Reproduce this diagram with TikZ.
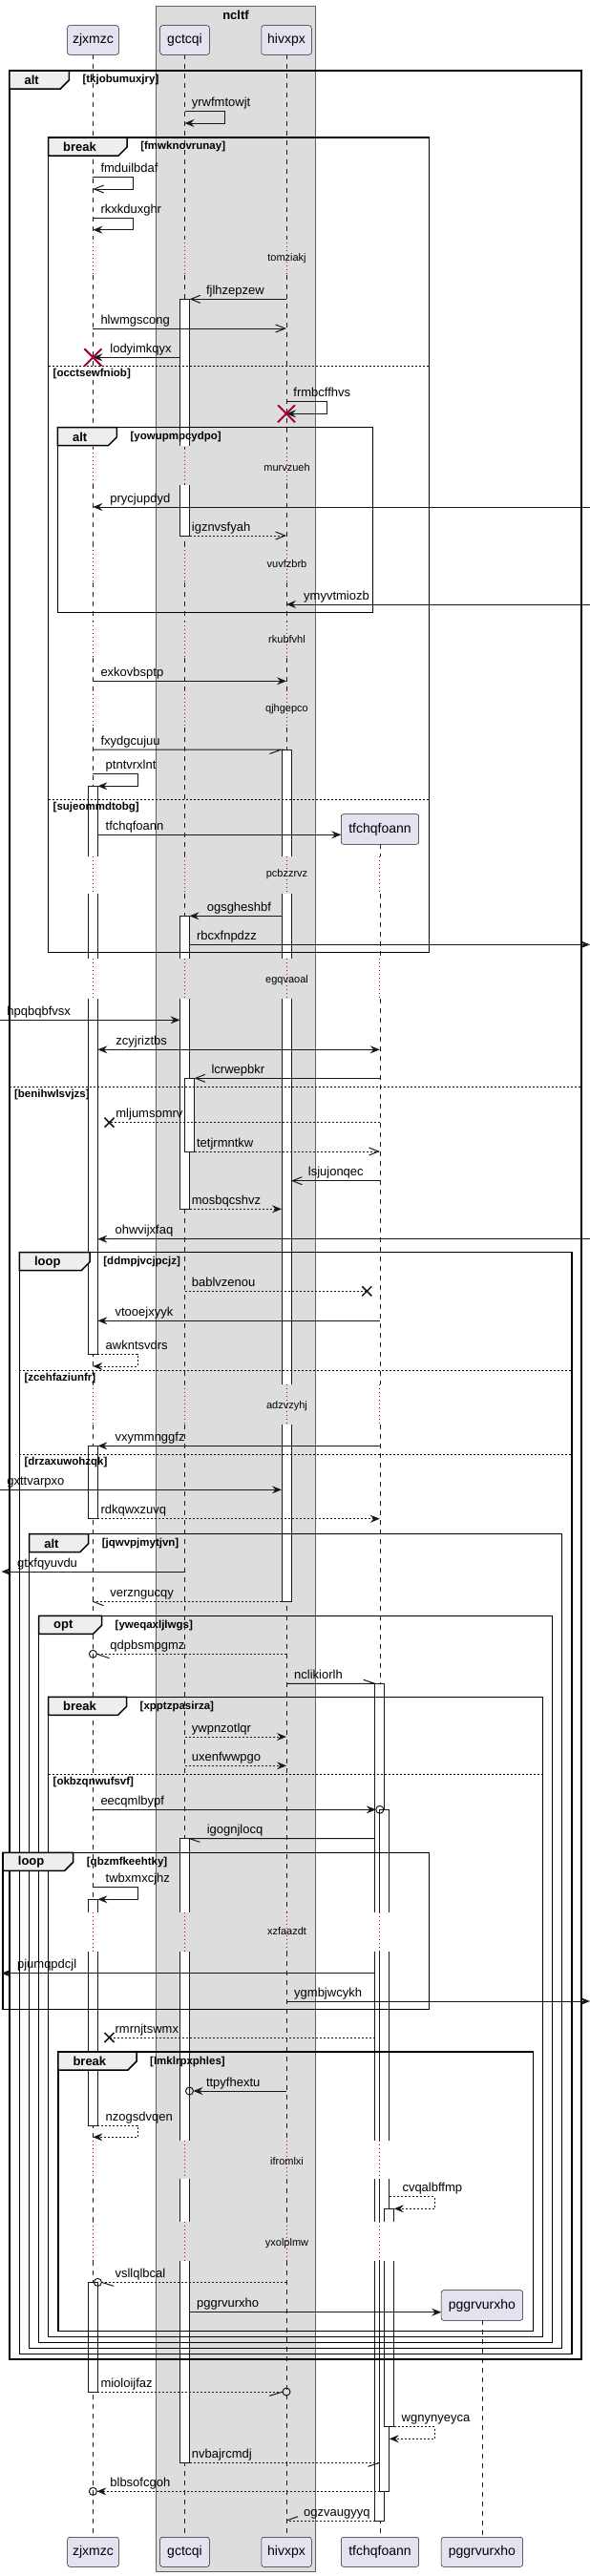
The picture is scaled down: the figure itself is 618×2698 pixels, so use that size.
\documentclass[tikz,border=0pt]{standalone}
\usepackage{fontspec}
\setmainfont{Liberation Sans}
\usetikzlibrary{arrows.meta}
\definecolor{lncol}{HTML}{181818}
\definecolor{partfill}{HTML}{E2E2F0}
\definecolor{grpfill}{HTML}{DDDDDD}
\definecolor{pentfill}{HTML}{EEEEEE}
\definecolor{dlycol}{HTML}{A80036}
\newcommand\fmsg{\fontsize{13}{15}\selectfont}
\newcommand\fpart{\fontsize{14}{16}\selectfont}
\newcommand\fdly{\fontsize{11}{13}\selectfont}
\newcommand\fcond{\fontsize{11.5}{13}\selectfont\bfseries}
\newcommand\fkw{\fontsize{13}{15}\selectfont\bfseries}
\newcommand\sqActF[3]{\filldraw[actst] (#1-5,#2) rectangle (#1+5,#3);}
\newcommand\sqActT[3]{\fill[white] (#1-5,#2) rectangle (#1+5,#3);\draw[actln] (#1-5,#3) -- (#1-5,#2) -- (#1+5,#2) -- (#1+5,#3);}
\newcommand\sqActB[3]{\fill[white] (#1-5,#2) rectangle (#1+5,#3);\draw[actln] (#1-5,#2) -- (#1-5,#3) -- (#1+5,#3) -- (#1+5,#2);}
\newcommand\sqActM[3]{\fill[white] (#1-5,#2) rectangle (#1+5,#3);\draw[actln] (#1-5,#2) -- (#1-5,#3) (#1+5,#2) -- (#1+5,#3);}
\newcommand\sqKill[2]{\draw[killst] (#1-9,#2-9) -- (#1+9,#2+9) (#1-9,#2+9) -- (#1+9,#2-9);}
\newcommand\sqLost[2]{\draw[lostst] (#1-5,#2-5) -- (#1+5,#2+5) (#1-5,#2+5) -- (#1+5,#2-5);}
\newcommand\sqLbl[3]{\node[lbl] (m-#3) at (#1,#2-5) {#3};}
\newcommand\sqDly[2]{\node[dlytxt] (d-#2) at (300.5,#1) {#2};}
\newcommand\sqFrame[8]{%
 \draw[frm] (#1,#2) rectangle (#3,#4);
 \filldraw[frm,fill=pentfill] (#1,#2) -- (#1+#5,#2) -- (#1+#5,#2+10) -- (#1+#5-9,#2+19) -- (#1,#2+19) -- cycle;
 \node[kwtxt] (k-#8) at (#1+15.5,#2+10) {#6};
 \node[condtxt] (c-#8) at (#1+#5+14,#2+10) {#7};}
\newcommand\sqElse[5]{\draw[elseln] (#1,#3) -- (#2,#3); \node[condtxt] (e-#5) at (#1+5,#3+8.3) {#4};}
\def\sqSegA{57.3/250,288.3/470,506.7/572,610/651,689/723,762/897,936/1004.3,1046/1450,1491.7/2002.7,2044/2241.7,2282.3/2326.7,2368.3/2657.3}
\def\sqDlyA{250/288.3,470/506.7,572/610,651/689,723/762,897/936,1004.3/1046,1450/1491.7,2002.7/2044,2241.7/2282.3,2326.7/2368.3}
\def\sqSegT{884.3/897,936/1004.3,1046/1450,1491.7/2002.7,2044/2241.7,2282.3/2326.7,2368.3/2657.3}
\def\sqDlyT{897/936,1004.3/1046,1450/1491.7,2002.7/2044,2241.7/2282.3,2326.7/2368.3}
\begin{document}
\begin{tikzpicture}[x=1pt,y=-1pt,
  msgln/.style={draw=lncol,line width=1pt},
  dshln/.style={dash pattern=on 2pt off 2pt},
  fhead/.style={-{Stealth[length=10pt,width=8pt,inset=3.5pt]}},
  ohead/.style={-{Straight Barb[length=10pt,width=8pt]}},
  bhead/.style={{Stealth[length=10pt,width=8pt,inset=3.5pt]}-{Stealth[length=10pt,width=8pt,inset=3.5pt]}},
  lbl/.style={font=\fmsg,inner sep=0pt,anchor=base west},
  dlytxt/.style={font=\fdly,inner sep=0pt},
  partbox/.style={draw=lncol,fill=partfill,line width=0.5pt,rounded corners=2.5pt,font=\fpart,inner sep=0pt},
  frm/.style={draw=black,line width=1.5pt},
  kwtxt/.style={font=\fkw,inner sep=0pt,anchor=west},
  condtxt/.style={font=\fcond,inner sep=0pt,anchor=west},
  elseln/.style={draw=black,line width=0.8pt,dash pattern=on 2pt off 2pt},
  lifeln/.style={draw=lncol,line width=0.5pt,dash pattern=on 5pt off 5pt},
  dlyln/.style={draw=dlycol,line width=0.8pt,dash pattern=on 1pt off 3pt},
  actst/.style={fill=white,draw=lncol,line width=1pt},
  actln/.style={draw=lncol,line width=1pt},
  killst/.style={draw=dlycol,line width=2pt},
  lostst/.style={draw=lncol,line width=1.5pt}]
\useasboundingbox (0,0) rectangle (618,2698);
\fill[white] (0,0) rectangle (618,2698);
% box group
\filldraw[fill=grpfill,draw=gray!75!black,line width=0.7pt] (163.7,6) rectangle (330.2,2693.3);
\node[font=\fkw,inner sep=0pt] (grp) at (247,16) {ncltf};
% lifelines
\foreach \lx in {97.4,193.5,300}{%
  \foreach \ya/\yb in \sqSegA {\draw[lifeln] (\lx,\ya) -- (\lx,\yb);}
  \foreach \ya/\yb in \sqDlyA {\draw[dlyln] (\lx,\ya) -- (\lx,\yb);}}
\foreach \ya/\yb in \sqSegT {\draw[lifeln] (397.8,\ya) -- (397.8,\yb);}
\foreach \ya/\yb in \sqDlyT {\draw[dlyln] (397.8,\ya) -- (397.8,\yb);}
\draw[lifeln] (505,2430.3) -- (505,2657.3);
% participants
\node[partbox,minimum width=53.7pt,minimum height=30.6pt] (zjxT) at (97.5,42) {zjxmzc};
\node[partbox,minimum width=51.7pt,minimum height=30.6pt] (gctT) at (193.5,42) {gctcqi};
\node[partbox,minimum width=52.5pt,minimum height=30.6pt] (hivT) at (300,42) {hivxpx};
\node[partbox,minimum width=53.7pt,minimum height=31pt] (zjxB) at (97.5,2672.8) {zjxmzc};
\node[partbox,minimum width=51.7pt,minimum height=31pt] (gctB) at (193.5,2672.8) {gctcqi};
\node[partbox,minimum width=52.5pt,minimum height=31pt] (hivB) at (300,2672.8) {hivxpx};
\node[partbox,minimum width=81.4pt,minimum height=31pt] (tfcB) at (398,2672.8) {tfchqfoann};
\node[partbox,minimum width=85.4pt,minimum height=31pt] (pggB) at (504.9,2672.8) {pggrvurxho};
\node[partbox,minimum width=81.4pt,minimum height=31.6pt] (tfcC) at (398,868.5) {tfchqfoann};
\node[partbox,minimum width=85.4pt,minimum height=31.6pt] (pggC) at (504.9,2414.5) {pggrvurxho};
% activations
\sqActT{193.5}{313.3}{467.3}\sqActB{193.5}{508.3}{561}
\sqActT{193.5}{959.3}{1004.3}\sqActB{193.5}{1046}{1266.3}
\sqActF{198.5}{1129.3}{1206}
\sqActT{193.5}{1925.7}{2002.7}\sqActM{193.5}{2044}{2241.7}\sqActM{193.5}{2282.3}{2326.7}\sqActB{193.5}{2368.3}{2579.3}
\sqActT{300}{785}{897}\sqActM{300}{936}{1004.3}\sqActM{300}{1046}{1450}\sqActB{300}{1491.7}{1677.3}
\sqActT{97.4}{823.3}{897}\sqActM{97.4}{936}{1004.3}\sqActB{97.4}{1046}{1418.3}
\sqActF{97.4}{1514.3}{1590.7}
\sqActT{97.4}{1989.3}{2002.7}\sqActB{97.4}{2044}{2226}
\sqActF{97.4}{2390.3}{2505}
\sqActT{397.8}{1763.3}{2002.7}\sqActM{397.8}{2044}{2241.7}\sqActM{397.8}{2282.3}{2326.7}\sqActB{397.8}{2368.3}{2640}
\sqActT{402.8}{1895.3}{2002.7}\sqActM{402.8}{2044}{2241.7}\sqActM{402.8}{2282.3}{2326.7}\sqActB{402.8}{2368.3}{2609.3}
\sqActT{407.8}{2313.3}{2326.7}\sqActB{407.8}{2368.3}{2541.7}
% frames
\sqFrame{9.9}{74}{608.8}{2471}{62.4}{alt}{[tkjobumuxjry]}{f1}
\sqFrame{50.5}{144}{449.5}{997.3}{82.6}{break}{[fmwknovrunay]}{f2}
\sqFrame{60.4}{447.7}{390.6}{641.7}{62}{alt}{[yowupmpcydpo]}{f3}
\sqFrame{20.3}{1311.7}{598.9}{2465.3}{73.9}{loop}{[ddmpjvcjpcjz]}{f4}
\sqFrame{30.6}{1606.7}{588.6}{2459.3}{62}{alt}{[jqwvpjmytjvn]}{f5}
\sqFrame{40.5}{1692.3}{578.6}{2453.7}{66}{opt}{[yweqaxljlwgs]}{f6}
\sqFrame{50.5}{1777.3}{568.3}{2447.7}{82}{break}{[xpptzpasirza]}{f7}
\sqFrame{3.2}{1940.3}{449.5}{2104.7}{73.5}{loop}{[qbzmfkeehtky]}{f8}
\sqFrame{60.8}{2149}{558.3}{2441.7}{82.2}{break}{[lmklrpxphles]}{f9}
\sqElse{50.5}{449.5}{383.3}{[occtsewfniob]}{1}
\sqElse{50.5}{449.5}{837.3}{[sujeommdtobg]}{2}
\sqElse{9.9}{608.8}{1138.7}{[benihwlsvjzs]}{3}
\sqElse{20.3}{598.9}{1435}{[zcehfaziunfr]}{4}
\sqElse{20.3}{598.9}{1523.3}{[drzaxuwohzqk]}{5}
\sqElse{50.5}{568.3}{1858.3}{[okbzqnwufsvf]}{6}
% delays
\sqDly{271}{tomziakj}
\sqDly{489.3}{murvzueh}
\sqDly{591}{vuvfzbrb}
\sqDly{670}{rkubfvhl}
\sqDly{742.7}{qjhgepco}
\sqDly{916}{pcbzzrvz}
\sqDly{1026.7}{egqvaoal}
\sqDly{1472.7}{adzvzyhj}
\sqDly{2023}{xzfaazdt}
\sqDly{2264}{ifromlxi}
\sqDly{2349.3}{yxolplmw}
% messages
\draw[msgln,fhead] (193.5,116.3) -- (235.3,116.3) -- (235.3,129) -- (193.5,129);
\draw[msgln,ohead] (97.4,185.3) -- (139.5,185.3) -- (139.5,198) -- (97.4,198);
\draw[msgln,fhead] (97.4,228.3) -- (139.5,228.3) -- (139.5,240.7) -- (97.4,240.7);
\draw[msgln,ohead] (300,313.3) -- (198.5,313.3);
\draw[msgln,ohead] (97.4,344) -- (300,344);
\draw[msgln,fhead] (188.5,374.3) -- (97.4,374.3);
\sqKill{97.4}{374.3}
\draw[msgln,fhead] (300,420.3) -- (342.2,420.3) -- (342.2,433.3) -- (300,433.3);
\sqKill{300}{433.3}
\draw[msgln,fhead] (618,531) -- (97.4,531);
\draw[msgln,dshln,ohead] (198.5,561) -- (300,561);
\draw[msgln,fhead] (618,633) -- (300,633);
\draw[msgln,fhead] (97.4,713.3) -- (300,713.3);
\draw[msgln] (97.4,785) -- (295,785) -- (282.5,789.5);
\draw[msgln,fhead] (97.4,810.3) -- (144.3,810.3) -- (144.3,823.3) -- (102.4,823.3);
\draw[msgln,fhead] (102.4,874.3) -- (357.3,874.3);
\draw[msgln,fhead] (295,959.3) -- (198.5,959.3);
\draw[msgln,fhead] (198.5,989.3) -- (618,989.3);
\draw[msgln,fhead] (0,1068.3) -- (188.5,1068.3);
\draw[msgln,bhead] (102.4,1099.3) -- (397.8,1099.3);
\draw[msgln,ohead] (397.8,1129.3) -- (203.5,1129.3);
\draw[msgln,dshln] (397.8,1175.7) -- (114.5,1175.7);
\sqLost{114.5}{1175.7}
\draw[msgln,dshln,ohead] (203.5,1206) -- (397.8,1206);
\draw[msgln,ohead] (397.8,1236.7) -- (305,1236.7);
\draw[msgln,dshln,fhead] (198.5,1266.3) -- (295,1266.3);
\draw[msgln,fhead] (618,1297.7) -- (102.4,1297.7);
\draw[msgln,dshln] (193.5,1352.3) -- (384.3,1352.3);
\sqLost{384.3}{1352.3}
\draw[msgln,fhead] (397.8,1383.3) -- (102.4,1383.3);
\draw[msgln,dshln,fhead] (102.4,1418.3) -- (144.3,1418.3) -- (144.3,1431) -- (97.4,1431);
\draw[msgln,fhead] (397.8,1514.3) -- (102.4,1514.3);
\draw[msgln,fhead] (0,1560.3) -- (295,1560.3);
\draw[msgln,dshln,fhead] (102.4,1590.7) -- (397.8,1590.7);
\draw[msgln,fhead] (193.5,1646) -- (1.5,1646);
\draw[msgln,dshln] (295,1677.3) -- (97.4,1677.3);
\draw[msgln] (97.4,1677.3) -- (108.5,1681.7);
\draw[msgln,dshln] (300,1732.3) -- (101.4,1732.3);
\draw[msgln] (101.4,1732.3) -- (114.5,1736.7);
\draw[msgln] (97.4,1732.3) circle[radius=4];
\draw[msgln] (300,1763.3) -- (392.8,1763.3) -- (380.7,1759.3);
\draw[msgln,dshln,fhead] (193.5,1819) -- (300,1819);
\draw[msgln,dshln,fhead] (193.5,1849.3) -- (300,1849.3);
\draw[msgln,fhead] (97.4,1895.3) -- (393.8,1895.3);
\draw[msgln] (397.8,1895.3) circle[radius=4];
\draw[msgln] (392.8,1925.7) -- (198.5,1925.7) -- (209.4,1929.3);
\draw[msgln,fhead] (97.4,1976.7) -- (144.3,1976.7) -- (144.3,1989.3) -- (102.4,1989.3);
\draw[msgln,fhead] (392.8,2066.7) -- (1.5,2066.7);
\draw[msgln,fhead] (300,2096) -- (618,2096);
\draw[msgln,dshln] (392.8,2134) -- (114.5,2134);
\sqLost{114.5}{2134}
\draw[msgln,fhead] (300,2190) -- (202.5,2190);
\draw[msgln] (198.5,2190) circle[radius=4];
\draw[msgln,dshln,fhead] (102.4,2226) -- (144.3,2226) -- (144.3,2238.3) -- (97.4,2238.3);
\draw[msgln,dshln,fhead] (407.8,2300.7) -- (455,2300.7) -- (455,2313.3) -- (412.8,2313.3);
\draw[msgln,dshln] (300,2390.3) -- (106.4,2390.3);
\draw[msgln] (106.4,2390.3) -- (119.2,2394.3);
\draw[msgln] (102.4,2390.3) circle[radius=4];
\draw[msgln,fhead] (198.5,2421.7) -- (462.2,2421.7);
\draw[msgln,dshln] (102.4,2505) -- (296,2505);
\draw[msgln] (296,2505) -- (282.2,2509.3);
\draw[msgln] (300,2505) circle[radius=4];
\draw[msgln,dshln,fhead] (412.8,2541.7) -- (455,2541.7) -- (455,2554.3) -- (407.8,2554.3);
\draw[msgln,dshln] (198.5,2579.3) -- (397.8,2579.3);
\draw[msgln] (397.8,2579.3) -- (385.5,2583.3);
\draw[msgln,dshln,fhead] (397.8,2609.3) -- (101.4,2609.3);
\draw[msgln] (97.4,2609.3) circle[radius=4];
\draw[msgln,dshln] (392.8,2640) -- (300,2640);
\draw[msgln] (300,2640) -- (312,2635.7);
% labels
\sqLbl{200.7}{116.3}{yrwfmtowjt}
\sqLbl{105.3}{185.3}{fmduilbdaf}
\sqLbl{105.3}{228.3}{rkxkduxghr}
\sqLbl{215.8}{313.3}{fjlhzepzew}
\sqLbl{105.3}{344}{hlwmgscong}
\sqLbl{115.2}{374.3}{lodyimkqyx}
\sqLbl{307.2}{420.3}{frmbcffhvs}
\sqLbl{115.2}{531}{prycjupdyd}
\sqLbl{200.7}{561}{igznvsfyah}
\sqLbl{318}{633}{ymyvtmiozb}
\sqLbl{105.3}{713.3}{exkovbsptp}
\sqLbl{105.3}{785}{fxydgcujuu}
\sqLbl{110.5}{810.3}{ptntvrxlnt}
\sqLbl{110.5}{874.3}{tfchqfoann}
\sqLbl{216.6}{959.3}{ogsgheshbf}
\sqLbl{205.9}{989.3}{rbcxfnpdzz}
\sqLbl{7.2}{1068.3}{hpqbqbfvsx}
\sqLbl{121.2}{1099.3}{zcyjriztbs}
\sqLbl{221.4}{1129.3}{lcrwepbkr}
\sqLbl{121.2}{1175.7}{mljumsomrv}
\sqLbl{205.9}{1206}{tetjrmntkw}
\sqLbl{322.7}{1236.7}{lsjujonqec}
\sqLbl{200.7}{1266.3}{mosbqcshvz}
\sqLbl{120.4}{1297.7}{ohwvijxfaq}
\sqLbl{200.7}{1352.3}{bablvzenou}
\sqLbl{120.4}{1383.3}{vtooejxyyk}
\sqLbl{110.5}{1418.3}{awkntsvdrs}
\sqLbl{120.4}{1514.3}{vxymmnggfz}
\sqLbl{7.2}{1560.3}{gxttvarpxo}
\sqLbl{105.3}{1590.7}{rdkqwxzuvq}
\sqLbl{17.9}{1646}{gtxfqyuvdu}
\sqLbl{115.2}{1677.3}{verzngucqy}
\sqLbl{115.2}{1732.3}{qdpbsmpgmz}
\sqLbl{308}{1763.3}{nclikiorlh}
\sqLbl{200.7}{1819}{ywpnzotlqr}
\sqLbl{200.7}{1849.3}{uxenfwwpgo}
\sqLbl{105.3}{1895.3}{eecqmlbypf}
\sqLbl{216.6}{1925.7}{igognjlocq}
\sqLbl{110.5}{1976.7}{twbxmxcjhz}
\sqLbl{17.9}{2066.7}{pjumqpdcjl}
\sqLbl{308}{2096}{ygmbjwcykh}
\sqLbl{120.4}{2134}{rmrnjtswmx}
\sqLbl{215.8}{2190}{ttpyfhextu}
\sqLbl{110.5}{2226}{nzogsdvqen}
\sqLbl{421.3}{2300.7}{cvqalbffmp}
\sqLbl{120.4}{2390.3}{vsllqlbcal}
\sqLbl{205.9}{2421.7}{pggrvurxho}
\sqLbl{105.3}{2505}{mioloijfaz}
\sqLbl{420.5}{2541.7}{wgnynyeyca}
\sqLbl{200.7}{2579.3}{nvbajrcmdj}
\sqLbl{115.2}{2609.3}{blbsofcgoh}
\sqLbl{318}{2640}{ogzvaugyyq}
\end{tikzpicture}
\end{document}
